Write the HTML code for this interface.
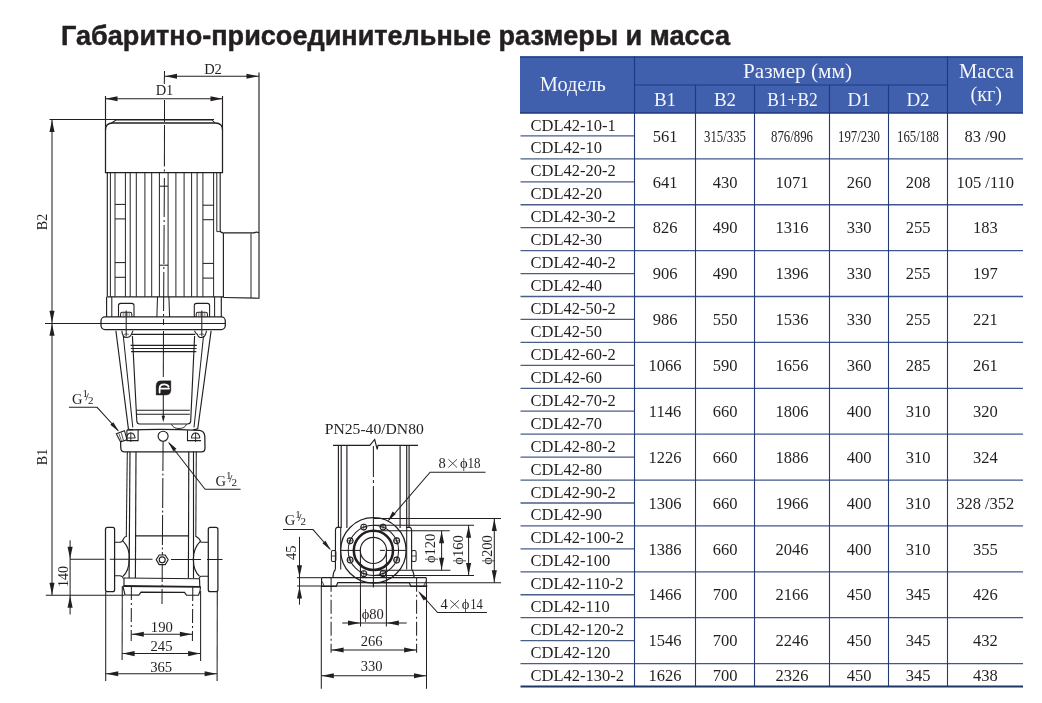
<!DOCTYPE html>
<html><head><meta charset="utf-8"><style>
html,body{margin:0;padding:0;background:#fff;width:1042px;height:703px;overflow:hidden}
svg{display:block;will-change:transform}
</style></head><body>
<svg width="1042" height="703" viewBox="0 0 1042 703">
<rect width="1042" height="703" fill="#fff"/>
<text x="61" y="44.5" font-family="Liberation Sans" font-size="28" font-weight="bold" fill="#231f20" text-anchor="start" textLength="669" lengthAdjust="spacingAndGlyphs" stroke="#231f20" stroke-width="0.5">Габаритно-присоединительные размеры и масса</text>
<rect x="520" y="56.5" width="503" height="56.5" fill="#405fad"/>
<line x1="520" y1="57" x2="1023" y2="57" stroke="#1e3e8a" stroke-width="1.4"/>
<line x1="634.5" y1="85" x2="947.5" y2="85" stroke="#1b3a86" stroke-width="1.2"/>
<line x1="520" y1="113" x2="1023" y2="113" stroke="#1e3a78" stroke-width="1.4"/>
<line x1="634.5" y1="56.5" x2="634.5" y2="113" stroke="#1b3a86" stroke-width="1.1"/>
<line x1="947.5" y1="56.5" x2="947.5" y2="113" stroke="#1b3a86" stroke-width="1.1"/>
<line x1="695.5" y1="85" x2="695.5" y2="113" stroke="#1b3a86" stroke-width="1.1"/>
<line x1="754.5" y1="85" x2="754.5" y2="113" stroke="#1b3a86" stroke-width="1.1"/>
<line x1="829.5" y1="85" x2="829.5" y2="113" stroke="#1b3a86" stroke-width="1.1"/>
<line x1="888.5" y1="85" x2="888.5" y2="113" stroke="#1b3a86" stroke-width="1.1"/>
<line x1="520.5" y1="135.94" x2="634.5" y2="135.94" stroke="#4a5d88" stroke-width="1.3"/>
<line x1="520.5" y1="158.88" x2="634.5" y2="158.88" stroke="#4a5d88" stroke-width="1.3"/>
<line x1="634.5" y1="158.88" x2="1023" y2="158.88" stroke="#3f5690" stroke-width="1.3"/>
<line x1="520.5" y1="181.82" x2="634.5" y2="181.82" stroke="#4a5d88" stroke-width="1.3"/>
<line x1="520.5" y1="204.76" x2="634.5" y2="204.76" stroke="#4a5d88" stroke-width="1.3"/>
<line x1="634.5" y1="204.76" x2="1023" y2="204.76" stroke="#3f5690" stroke-width="1.3"/>
<line x1="520.5" y1="227.7" x2="634.5" y2="227.7" stroke="#4a5d88" stroke-width="1.3"/>
<line x1="520.5" y1="250.64" x2="634.5" y2="250.64" stroke="#4a5d88" stroke-width="1.3"/>
<line x1="634.5" y1="250.64" x2="1023" y2="250.64" stroke="#3f5690" stroke-width="1.3"/>
<line x1="520.5" y1="273.58" x2="634.5" y2="273.58" stroke="#4a5d88" stroke-width="1.3"/>
<line x1="520.5" y1="296.52" x2="634.5" y2="296.52" stroke="#4a5d88" stroke-width="1.3"/>
<line x1="634.5" y1="296.52" x2="1023" y2="296.52" stroke="#3f5690" stroke-width="1.3"/>
<line x1="520.5" y1="319.46" x2="634.5" y2="319.46" stroke="#4a5d88" stroke-width="1.3"/>
<line x1="520.5" y1="342.4" x2="634.5" y2="342.4" stroke="#4a5d88" stroke-width="1.3"/>
<line x1="634.5" y1="342.4" x2="1023" y2="342.4" stroke="#3f5690" stroke-width="1.3"/>
<line x1="520.5" y1="365.34" x2="634.5" y2="365.34" stroke="#4a5d88" stroke-width="1.3"/>
<line x1="520.5" y1="388.28" x2="634.5" y2="388.28" stroke="#4a5d88" stroke-width="1.3"/>
<line x1="634.5" y1="388.28" x2="1023" y2="388.28" stroke="#3f5690" stroke-width="1.3"/>
<line x1="520.5" y1="411.22" x2="634.5" y2="411.22" stroke="#4a5d88" stroke-width="1.3"/>
<line x1="520.5" y1="434.16" x2="634.5" y2="434.16" stroke="#4a5d88" stroke-width="1.3"/>
<line x1="634.5" y1="434.16" x2="1023" y2="434.16" stroke="#3f5690" stroke-width="1.3"/>
<line x1="520.5" y1="457.1" x2="634.5" y2="457.1" stroke="#4a5d88" stroke-width="1.3"/>
<line x1="520.5" y1="480.04" x2="634.5" y2="480.04" stroke="#4a5d88" stroke-width="1.3"/>
<line x1="634.5" y1="480.04" x2="1023" y2="480.04" stroke="#3f5690" stroke-width="1.3"/>
<line x1="520.5" y1="502.98" x2="634.5" y2="502.98" stroke="#4a5d88" stroke-width="1.3"/>
<line x1="520.5" y1="525.92" x2="634.5" y2="525.92" stroke="#4a5d88" stroke-width="1.3"/>
<line x1="634.5" y1="525.92" x2="1023" y2="525.92" stroke="#3f5690" stroke-width="1.3"/>
<line x1="520.5" y1="548.86" x2="634.5" y2="548.86" stroke="#4a5d88" stroke-width="1.3"/>
<line x1="520.5" y1="571.8" x2="634.5" y2="571.8" stroke="#4a5d88" stroke-width="1.3"/>
<line x1="634.5" y1="571.8" x2="1023" y2="571.8" stroke="#3f5690" stroke-width="1.3"/>
<line x1="520.5" y1="594.74" x2="634.5" y2="594.74" stroke="#4a5d88" stroke-width="1.3"/>
<line x1="520.5" y1="617.68" x2="634.5" y2="617.68" stroke="#4a5d88" stroke-width="1.3"/>
<line x1="634.5" y1="617.68" x2="1023" y2="617.68" stroke="#3f5690" stroke-width="1.3"/>
<line x1="520.5" y1="640.62" x2="634.5" y2="640.62" stroke="#4a5d88" stroke-width="1.3"/>
<line x1="520.5" y1="663.56" x2="634.5" y2="663.56" stroke="#4a5d88" stroke-width="1.3"/>
<line x1="634.5" y1="663.56" x2="1023" y2="663.56" stroke="#3f5690" stroke-width="1.3"/>
<line x1="520.5" y1="686.5" x2="1023" y2="686.5" stroke="#1f3566" stroke-width="1.8"/>
<line x1="634.5" y1="113" x2="634.5" y2="686.5" stroke="#243a72" stroke-width="1.1"/>
<line x1="695.5" y1="113" x2="695.5" y2="686.5" stroke="#243a72" stroke-width="1.1"/>
<line x1="754.5" y1="113" x2="754.5" y2="686.5" stroke="#243a72" stroke-width="1.1"/>
<line x1="829.5" y1="113" x2="829.5" y2="686.5" stroke="#243a72" stroke-width="1.1"/>
<line x1="888.5" y1="113" x2="888.5" y2="686.5" stroke="#243a72" stroke-width="1.1"/>
<line x1="947.5" y1="113" x2="947.5" y2="686.5" stroke="#243a72" stroke-width="1.1"/>
<text x="572.8" y="90.5" font-family="Liberation Serif" font-size="21.5" font-weight="normal" fill="#f4f6fb" text-anchor="middle" textLength="66" lengthAdjust="spacingAndGlyphs">Модель</text>
<text x="797.5" y="78.3" font-family="Liberation Serif" font-size="21" font-weight="normal" fill="#f4f6fb" text-anchor="middle" textLength="109" lengthAdjust="spacingAndGlyphs">Размер (мм)</text>
<text x="665" y="106.3" font-family="Liberation Serif" font-size="19" font-weight="normal" fill="#f4f6fb" text-anchor="middle">B1</text>
<text x="725" y="106.3" font-family="Liberation Serif" font-size="19" font-weight="normal" fill="#f4f6fb" text-anchor="middle">B2</text>
<text x="792.5" y="106.3" font-family="Liberation Serif" font-size="19" font-weight="normal" fill="#f4f6fb" text-anchor="middle" textLength="50.5" lengthAdjust="spacingAndGlyphs">B1+B2</text>
<text x="859" y="106.3" font-family="Liberation Serif" font-size="19" font-weight="normal" fill="#f4f6fb" text-anchor="middle">D1</text>
<text x="918" y="106.3" font-family="Liberation Serif" font-size="19" font-weight="normal" fill="#f4f6fb" text-anchor="middle">D2</text>
<text x="986.5" y="77.6" font-family="Liberation Serif" font-size="21" font-weight="normal" fill="#f4f6fb" text-anchor="middle" textLength="55" lengthAdjust="spacingAndGlyphs">Масса</text>
<text x="986.3" y="100.6" font-family="Liberation Serif" font-size="20.5" font-weight="normal" fill="#f4f6fb" text-anchor="middle" textLength="31.5" lengthAdjust="spacingAndGlyphs">(кг)</text>
<text x="530.5" y="130.5" font-family="Liberation Serif" font-size="16.5" font-weight="normal" fill="#231f20" text-anchor="start">CDL42-10-1</text>
<text x="530.5" y="153.44" font-family="Liberation Serif" font-size="16.5" font-weight="normal" fill="#231f20" text-anchor="start">CDL42-10</text>
<text x="665" y="141.64" font-family="Liberation Serif" font-size="16.5" font-weight="normal" fill="#231f20" text-anchor="middle">561</text>
<text x="725" y="141.64" font-family="Liberation Serif" font-size="16" font-weight="normal" fill="#231f20" text-anchor="middle" textLength="42" lengthAdjust="spacingAndGlyphs">315/335</text>
<text x="792" y="141.64" font-family="Liberation Serif" font-size="16" font-weight="normal" fill="#231f20" text-anchor="middle" textLength="42" lengthAdjust="spacingAndGlyphs">876/896</text>
<text x="859" y="141.64" font-family="Liberation Serif" font-size="16" font-weight="normal" fill="#231f20" text-anchor="middle" textLength="42" lengthAdjust="spacingAndGlyphs">197/230</text>
<text x="918" y="141.64" font-family="Liberation Serif" font-size="16" font-weight="normal" fill="#231f20" text-anchor="middle" textLength="42" lengthAdjust="spacingAndGlyphs">165/188</text>
<text x="985.25" y="141.64" font-family="Liberation Serif" font-size="16.5" font-weight="normal" fill="#231f20" text-anchor="middle">83 /90</text>
<text x="530.5" y="176.38" font-family="Liberation Serif" font-size="16.5" font-weight="normal" fill="#231f20" text-anchor="start">CDL42-20-2</text>
<text x="530.5" y="199.32" font-family="Liberation Serif" font-size="16.5" font-weight="normal" fill="#231f20" text-anchor="start">CDL42-20</text>
<text x="665" y="187.52" font-family="Liberation Serif" font-size="16.5" font-weight="normal" fill="#231f20" text-anchor="middle">641</text>
<text x="725" y="187.52" font-family="Liberation Serif" font-size="16.5" font-weight="normal" fill="#231f20" text-anchor="middle">430</text>
<text x="792" y="187.52" font-family="Liberation Serif" font-size="16.5" font-weight="normal" fill="#231f20" text-anchor="middle">1071</text>
<text x="859" y="187.52" font-family="Liberation Serif" font-size="16.5" font-weight="normal" fill="#231f20" text-anchor="middle">260</text>
<text x="918" y="187.52" font-family="Liberation Serif" font-size="16.5" font-weight="normal" fill="#231f20" text-anchor="middle">208</text>
<text x="985.25" y="187.52" font-family="Liberation Serif" font-size="16.5" font-weight="normal" fill="#231f20" text-anchor="middle">105 /110</text>
<text x="530.5" y="222.26" font-family="Liberation Serif" font-size="16.5" font-weight="normal" fill="#231f20" text-anchor="start">CDL42-30-2</text>
<text x="530.5" y="245.2" font-family="Liberation Serif" font-size="16.5" font-weight="normal" fill="#231f20" text-anchor="start">CDL42-30</text>
<text x="665" y="233.4" font-family="Liberation Serif" font-size="16.5" font-weight="normal" fill="#231f20" text-anchor="middle">826</text>
<text x="725" y="233.4" font-family="Liberation Serif" font-size="16.5" font-weight="normal" fill="#231f20" text-anchor="middle">490</text>
<text x="792" y="233.4" font-family="Liberation Serif" font-size="16.5" font-weight="normal" fill="#231f20" text-anchor="middle">1316</text>
<text x="859" y="233.4" font-family="Liberation Serif" font-size="16.5" font-weight="normal" fill="#231f20" text-anchor="middle">330</text>
<text x="918" y="233.4" font-family="Liberation Serif" font-size="16.5" font-weight="normal" fill="#231f20" text-anchor="middle">255</text>
<text x="985.25" y="233.4" font-family="Liberation Serif" font-size="16.5" font-weight="normal" fill="#231f20" text-anchor="middle">183</text>
<text x="530.5" y="268.14" font-family="Liberation Serif" font-size="16.5" font-weight="normal" fill="#231f20" text-anchor="start">CDL42-40-2</text>
<text x="530.5" y="291.08" font-family="Liberation Serif" font-size="16.5" font-weight="normal" fill="#231f20" text-anchor="start">CDL42-40</text>
<text x="665" y="279.28" font-family="Liberation Serif" font-size="16.5" font-weight="normal" fill="#231f20" text-anchor="middle">906</text>
<text x="725" y="279.28" font-family="Liberation Serif" font-size="16.5" font-weight="normal" fill="#231f20" text-anchor="middle">490</text>
<text x="792" y="279.28" font-family="Liberation Serif" font-size="16.5" font-weight="normal" fill="#231f20" text-anchor="middle">1396</text>
<text x="859" y="279.28" font-family="Liberation Serif" font-size="16.5" font-weight="normal" fill="#231f20" text-anchor="middle">330</text>
<text x="918" y="279.28" font-family="Liberation Serif" font-size="16.5" font-weight="normal" fill="#231f20" text-anchor="middle">255</text>
<text x="985.25" y="279.28" font-family="Liberation Serif" font-size="16.5" font-weight="normal" fill="#231f20" text-anchor="middle">197</text>
<text x="530.5" y="314.02" font-family="Liberation Serif" font-size="16.5" font-weight="normal" fill="#231f20" text-anchor="start">CDL42-50-2</text>
<text x="530.5" y="336.96" font-family="Liberation Serif" font-size="16.5" font-weight="normal" fill="#231f20" text-anchor="start">CDL42-50</text>
<text x="665" y="325.16" font-family="Liberation Serif" font-size="16.5" font-weight="normal" fill="#231f20" text-anchor="middle">986</text>
<text x="725" y="325.16" font-family="Liberation Serif" font-size="16.5" font-weight="normal" fill="#231f20" text-anchor="middle">550</text>
<text x="792" y="325.16" font-family="Liberation Serif" font-size="16.5" font-weight="normal" fill="#231f20" text-anchor="middle">1536</text>
<text x="859" y="325.16" font-family="Liberation Serif" font-size="16.5" font-weight="normal" fill="#231f20" text-anchor="middle">330</text>
<text x="918" y="325.16" font-family="Liberation Serif" font-size="16.5" font-weight="normal" fill="#231f20" text-anchor="middle">255</text>
<text x="985.25" y="325.16" font-family="Liberation Serif" font-size="16.5" font-weight="normal" fill="#231f20" text-anchor="middle">221</text>
<text x="530.5" y="359.9" font-family="Liberation Serif" font-size="16.5" font-weight="normal" fill="#231f20" text-anchor="start">CDL42-60-2</text>
<text x="530.5" y="382.84" font-family="Liberation Serif" font-size="16.5" font-weight="normal" fill="#231f20" text-anchor="start">CDL42-60</text>
<text x="665" y="371.04" font-family="Liberation Serif" font-size="16.5" font-weight="normal" fill="#231f20" text-anchor="middle">1066</text>
<text x="725" y="371.04" font-family="Liberation Serif" font-size="16.5" font-weight="normal" fill="#231f20" text-anchor="middle">590</text>
<text x="792" y="371.04" font-family="Liberation Serif" font-size="16.5" font-weight="normal" fill="#231f20" text-anchor="middle">1656</text>
<text x="859" y="371.04" font-family="Liberation Serif" font-size="16.5" font-weight="normal" fill="#231f20" text-anchor="middle">360</text>
<text x="918" y="371.04" font-family="Liberation Serif" font-size="16.5" font-weight="normal" fill="#231f20" text-anchor="middle">285</text>
<text x="985.25" y="371.04" font-family="Liberation Serif" font-size="16.5" font-weight="normal" fill="#231f20" text-anchor="middle">261</text>
<text x="530.5" y="405.78" font-family="Liberation Serif" font-size="16.5" font-weight="normal" fill="#231f20" text-anchor="start">CDL42-70-2</text>
<text x="530.5" y="428.72" font-family="Liberation Serif" font-size="16.5" font-weight="normal" fill="#231f20" text-anchor="start">CDL42-70</text>
<text x="665" y="416.92" font-family="Liberation Serif" font-size="16.5" font-weight="normal" fill="#231f20" text-anchor="middle">1146</text>
<text x="725" y="416.92" font-family="Liberation Serif" font-size="16.5" font-weight="normal" fill="#231f20" text-anchor="middle">660</text>
<text x="792" y="416.92" font-family="Liberation Serif" font-size="16.5" font-weight="normal" fill="#231f20" text-anchor="middle">1806</text>
<text x="859" y="416.92" font-family="Liberation Serif" font-size="16.5" font-weight="normal" fill="#231f20" text-anchor="middle">400</text>
<text x="918" y="416.92" font-family="Liberation Serif" font-size="16.5" font-weight="normal" fill="#231f20" text-anchor="middle">310</text>
<text x="985.25" y="416.92" font-family="Liberation Serif" font-size="16.5" font-weight="normal" fill="#231f20" text-anchor="middle">320</text>
<text x="530.5" y="451.66" font-family="Liberation Serif" font-size="16.5" font-weight="normal" fill="#231f20" text-anchor="start">CDL42-80-2</text>
<text x="530.5" y="474.6" font-family="Liberation Serif" font-size="16.5" font-weight="normal" fill="#231f20" text-anchor="start">CDL42-80</text>
<text x="665" y="462.8" font-family="Liberation Serif" font-size="16.5" font-weight="normal" fill="#231f20" text-anchor="middle">1226</text>
<text x="725" y="462.8" font-family="Liberation Serif" font-size="16.5" font-weight="normal" fill="#231f20" text-anchor="middle">660</text>
<text x="792" y="462.8" font-family="Liberation Serif" font-size="16.5" font-weight="normal" fill="#231f20" text-anchor="middle">1886</text>
<text x="859" y="462.8" font-family="Liberation Serif" font-size="16.5" font-weight="normal" fill="#231f20" text-anchor="middle">400</text>
<text x="918" y="462.8" font-family="Liberation Serif" font-size="16.5" font-weight="normal" fill="#231f20" text-anchor="middle">310</text>
<text x="985.25" y="462.8" font-family="Liberation Serif" font-size="16.5" font-weight="normal" fill="#231f20" text-anchor="middle">324</text>
<text x="530.5" y="497.54" font-family="Liberation Serif" font-size="16.5" font-weight="normal" fill="#231f20" text-anchor="start">CDL42-90-2</text>
<text x="530.5" y="520.48" font-family="Liberation Serif" font-size="16.5" font-weight="normal" fill="#231f20" text-anchor="start">CDL42-90</text>
<text x="665" y="508.68" font-family="Liberation Serif" font-size="16.5" font-weight="normal" fill="#231f20" text-anchor="middle">1306</text>
<text x="725" y="508.68" font-family="Liberation Serif" font-size="16.5" font-weight="normal" fill="#231f20" text-anchor="middle">660</text>
<text x="792" y="508.68" font-family="Liberation Serif" font-size="16.5" font-weight="normal" fill="#231f20" text-anchor="middle">1966</text>
<text x="859" y="508.68" font-family="Liberation Serif" font-size="16.5" font-weight="normal" fill="#231f20" text-anchor="middle">400</text>
<text x="918" y="508.68" font-family="Liberation Serif" font-size="16.5" font-weight="normal" fill="#231f20" text-anchor="middle">310</text>
<text x="985.25" y="508.68" font-family="Liberation Serif" font-size="16.5" font-weight="normal" fill="#231f20" text-anchor="middle">328 /352</text>
<text x="530.5" y="543.42" font-family="Liberation Serif" font-size="16.5" font-weight="normal" fill="#231f20" text-anchor="start">CDL42-100-2</text>
<text x="530.5" y="566.36" font-family="Liberation Serif" font-size="16.5" font-weight="normal" fill="#231f20" text-anchor="start">CDL42-100</text>
<text x="665" y="554.56" font-family="Liberation Serif" font-size="16.5" font-weight="normal" fill="#231f20" text-anchor="middle">1386</text>
<text x="725" y="554.56" font-family="Liberation Serif" font-size="16.5" font-weight="normal" fill="#231f20" text-anchor="middle">660</text>
<text x="792" y="554.56" font-family="Liberation Serif" font-size="16.5" font-weight="normal" fill="#231f20" text-anchor="middle">2046</text>
<text x="859" y="554.56" font-family="Liberation Serif" font-size="16.5" font-weight="normal" fill="#231f20" text-anchor="middle">400</text>
<text x="918" y="554.56" font-family="Liberation Serif" font-size="16.5" font-weight="normal" fill="#231f20" text-anchor="middle">310</text>
<text x="985.25" y="554.56" font-family="Liberation Serif" font-size="16.5" font-weight="normal" fill="#231f20" text-anchor="middle">355</text>
<text x="530.5" y="589.3" font-family="Liberation Serif" font-size="16.5" font-weight="normal" fill="#231f20" text-anchor="start">CDL42-110-2</text>
<text x="530.5" y="612.24" font-family="Liberation Serif" font-size="16.5" font-weight="normal" fill="#231f20" text-anchor="start">CDL42-110</text>
<text x="665" y="600.44" font-family="Liberation Serif" font-size="16.5" font-weight="normal" fill="#231f20" text-anchor="middle">1466</text>
<text x="725" y="600.44" font-family="Liberation Serif" font-size="16.5" font-weight="normal" fill="#231f20" text-anchor="middle">700</text>
<text x="792" y="600.44" font-family="Liberation Serif" font-size="16.5" font-weight="normal" fill="#231f20" text-anchor="middle">2166</text>
<text x="859" y="600.44" font-family="Liberation Serif" font-size="16.5" font-weight="normal" fill="#231f20" text-anchor="middle">450</text>
<text x="918" y="600.44" font-family="Liberation Serif" font-size="16.5" font-weight="normal" fill="#231f20" text-anchor="middle">345</text>
<text x="985.25" y="600.44" font-family="Liberation Serif" font-size="16.5" font-weight="normal" fill="#231f20" text-anchor="middle">426</text>
<text x="530.5" y="635.18" font-family="Liberation Serif" font-size="16.5" font-weight="normal" fill="#231f20" text-anchor="start">CDL42-120-2</text>
<text x="530.5" y="658.12" font-family="Liberation Serif" font-size="16.5" font-weight="normal" fill="#231f20" text-anchor="start">CDL42-120</text>
<text x="665" y="646.32" font-family="Liberation Serif" font-size="16.5" font-weight="normal" fill="#231f20" text-anchor="middle">1546</text>
<text x="725" y="646.32" font-family="Liberation Serif" font-size="16.5" font-weight="normal" fill="#231f20" text-anchor="middle">700</text>
<text x="792" y="646.32" font-family="Liberation Serif" font-size="16.5" font-weight="normal" fill="#231f20" text-anchor="middle">2246</text>
<text x="859" y="646.32" font-family="Liberation Serif" font-size="16.5" font-weight="normal" fill="#231f20" text-anchor="middle">450</text>
<text x="918" y="646.32" font-family="Liberation Serif" font-size="16.5" font-weight="normal" fill="#231f20" text-anchor="middle">345</text>
<text x="985.25" y="646.32" font-family="Liberation Serif" font-size="16.5" font-weight="normal" fill="#231f20" text-anchor="middle">432</text>
<text x="530.5" y="681.06" font-family="Liberation Serif" font-size="16.5" font-weight="normal" fill="#231f20" text-anchor="start">CDL42-130-2</text>
<text x="665" y="681.06" font-family="Liberation Serif" font-size="16.5" font-weight="normal" fill="#231f20" text-anchor="middle">1626</text>
<text x="725" y="681.06" font-family="Liberation Serif" font-size="16.5" font-weight="normal" fill="#231f20" text-anchor="middle">700</text>
<text x="792" y="681.06" font-family="Liberation Serif" font-size="16.5" font-weight="normal" fill="#231f20" text-anchor="middle">2326</text>
<text x="859" y="681.06" font-family="Liberation Serif" font-size="16.5" font-weight="normal" fill="#231f20" text-anchor="middle">450</text>
<text x="918" y="681.06" font-family="Liberation Serif" font-size="16.5" font-weight="normal" fill="#231f20" text-anchor="middle">345</text>
<text x="985.25" y="681.06" font-family="Liberation Serif" font-size="16.5" font-weight="normal" fill="#231f20" text-anchor="middle">438</text>
<line x1="164.5" y1="71" x2="164.3" y2="84" stroke="#231f20" stroke-width="1.03"/>
<line x1="164.5" y1="100" x2="164.5" y2="122" stroke="#231f20" stroke-width="1.03"/>
<line x1="164.5" y1="125" x2="164.4" y2="166.4" stroke="#231f20" stroke-width="1.03"/>
<line x1="164.4" y1="169.5" x2="164.4" y2="171.5" stroke="#231f20" stroke-width="1.03"/>
<line x1="164.4" y1="178" x2="163.5" y2="325" stroke="#231f20" stroke-width="1.03" stroke-dasharray="39 3 2 3"/>
<line x1="163.5" y1="331" x2="163.3" y2="377" stroke="#231f20" stroke-width="1.03"/>
<line x1="163.1" y1="441" x2="162" y2="604" stroke="#231f20" stroke-width="1.03" stroke-dasharray="30 2.5 2 2.5"/>
<line x1="164.5" y1="76.2" x2="259" y2="76.2" stroke="#231f20" stroke-width="1.03"/>
<polygon points="165,76.2 177,73.65 177,78.75" fill="#231f20"/>
<polygon points="258.5,76.2 246.5,78.75 246.5,73.65" fill="#231f20"/>
<text x="213" y="73.5" font-family="Liberation Serif" font-size="14.5" font-weight="normal" fill="#231f20" text-anchor="middle">D2</text>
<line x1="259" y1="72.5" x2="259" y2="233" stroke="#231f20" stroke-width="1.15"/>
<line x1="105" y1="98.7" x2="223" y2="98.7" stroke="#231f20" stroke-width="1.03"/>
<polygon points="105.5,98.7 117.5,96.15 117.5,101.25" fill="#231f20"/>
<polygon points="222.5,98.7 210.5,101.25 210.5,96.15" fill="#231f20"/>
<text x="164.5" y="95" font-family="Liberation Serif" font-size="14.5" font-weight="normal" fill="#231f20" text-anchor="middle">D1</text>
<line x1="105.5" y1="96" x2="105.5" y2="130" stroke="#231f20" stroke-width="1.15"/>
<line x1="222.5" y1="96" x2="222.5" y2="130" stroke="#231f20" stroke-width="1.15"/>
<line x1="49.5" y1="119.5" x2="214" y2="119.5" stroke="#231f20" stroke-width="1.03"/>
<line x1="52" y1="119.5" x2="52" y2="595.2" stroke="#231f20" stroke-width="1.03"/>
<polygon points="52,120 54.55,132 49.45,132" fill="#231f20"/>
<polygon points="52,322.7 49.45,310.7 54.55,310.7" fill="#231f20"/>
<polygon points="52,323.7 54.55,335.7 49.45,335.7" fill="#231f20"/>
<polygon points="52,594.7 49.45,582.7 54.55,582.7" fill="#231f20"/>
<line x1="45" y1="323.4" x2="101" y2="323.6" stroke="#231f20" stroke-width="1.03"/>
<line x1="45.8" y1="595.2" x2="124.5" y2="595.2" stroke="#231f20" stroke-width="1.03"/>
<text x="47.3" y="222" font-family="Liberation Serif" font-size="14" font-weight="normal" fill="#231f20" text-anchor="middle" transform="rotate(-90 47.3 222)">B2</text>
<text x="47.3" y="457" font-family="Liberation Serif" font-size="14" font-weight="normal" fill="#231f20" text-anchor="middle" transform="rotate(-90 47.3 457)">B1</text>
<path d="M105.5,172.6 L105.5,130 Q105.5,123 112.5,123 L215.5,123 Q222.5,123 222.5,130 L222.5,172.6 Z" fill="none" stroke="#231f20" stroke-width="1.26"/>
<path d="M111.5,123 L116,120 L212,120 L215,123" fill="none" stroke="#231f20" stroke-width="1.03"/>
<line x1="107.3" y1="172.8" x2="107.3" y2="296.8" stroke="#231f20" stroke-width="1.15"/>
<line x1="107.3" y1="296.8" x2="223.4" y2="296.8" stroke="#231f20" stroke-width="1.15"/>
<line x1="110.4" y1="172.8" x2="110.4" y2="296.8" stroke="#231f20" stroke-width="0.98"/>
<line x1="115" y1="172.8" x2="115" y2="296.8" stroke="#231f20" stroke-width="0.98"/>
<line x1="125.4" y1="172.8" x2="125.4" y2="296.8" stroke="#231f20" stroke-width="0.98"/>
<line x1="130.2" y1="172.8" x2="130.2" y2="296.8" stroke="#231f20" stroke-width="0.98"/>
<line x1="136.3" y1="172.8" x2="136.3" y2="296.8" stroke="#231f20" stroke-width="0.98"/>
<line x1="144.9" y1="172.8" x2="144.9" y2="296.8" stroke="#231f20" stroke-width="0.98"/>
<line x1="151.7" y1="172.8" x2="151.7" y2="296.8" stroke="#231f20" stroke-width="0.98"/>
<line x1="159.4" y1="172.8" x2="159.4" y2="296.8" stroke="#231f20" stroke-width="0.98"/>
<line x1="168.1" y1="172.8" x2="168.1" y2="296.8" stroke="#231f20" stroke-width="0.98"/>
<line x1="175.9" y1="172.8" x2="175.9" y2="296.8" stroke="#231f20" stroke-width="0.98"/>
<line x1="184.1" y1="172.8" x2="184.1" y2="296.8" stroke="#231f20" stroke-width="0.98"/>
<line x1="191.6" y1="172.8" x2="191.6" y2="296.8" stroke="#231f20" stroke-width="0.98"/>
<line x1="197.1" y1="172.8" x2="197.1" y2="296.8" stroke="#231f20" stroke-width="0.98"/>
<line x1="202.9" y1="172.8" x2="202.9" y2="296.8" stroke="#231f20" stroke-width="0.98"/>
<line x1="213.6" y1="172.8" x2="213.6" y2="296.8" stroke="#231f20" stroke-width="0.98"/>
<line x1="216.8" y1="172.8" x2="216.8" y2="231.6" stroke="#231f20" stroke-width="0.98"/>
<path d="M216.8,231.6 L220,231.6" fill="none" stroke="#231f20" stroke-width="0.92"/>
<path d="M220.2,172.8 L220.2,230.5 Q220.4,232.8 223.4,232.9" fill="none" stroke="#231f20" stroke-width="1.15"/>
<line x1="115" y1="204.4" x2="125.4" y2="204.4" stroke="#231f20" stroke-width="1.03"/>
<line x1="202.9" y1="205.2" x2="213.6" y2="205.2" stroke="#231f20" stroke-width="1.03"/>
<line x1="115" y1="218.9" x2="125.4" y2="218.9" stroke="#231f20" stroke-width="1.03"/>
<line x1="202.9" y1="219.7" x2="213.6" y2="219.7" stroke="#231f20" stroke-width="1.03"/>
<line x1="115" y1="262.6" x2="125.4" y2="262.6" stroke="#231f20" stroke-width="1.03"/>
<line x1="202.9" y1="263.4" x2="213.6" y2="263.4" stroke="#231f20" stroke-width="1.03"/>
<line x1="115" y1="277.3" x2="125.4" y2="277.3" stroke="#231f20" stroke-width="1.03"/>
<line x1="202.9" y1="278.1" x2="213.6" y2="278.1" stroke="#231f20" stroke-width="1.03"/>
<line x1="159.4" y1="186.2" x2="168.1" y2="186.2" stroke="#231f20" stroke-width="1.03"/>
<line x1="159.4" y1="265.2" x2="168.1" y2="265.2" stroke="#231f20" stroke-width="1.03"/>
<path d="M223.4,232.9 L254,232.9 Q256,231.8 257.5,232.2 L259,233" fill="none" stroke="#231f20" stroke-width="1.15"/>
<line x1="223.4" y1="232.9" x2="223.4" y2="297.5" stroke="#231f20" stroke-width="1.15"/>
<line x1="251" y1="233.5" x2="251" y2="298" stroke="#231f20" stroke-width="0.98"/>
<path d="M223.4,297.5 L259,298.2 L259,233" fill="none" stroke="#231f20" stroke-width="1.15"/>
<line x1="106.6" y1="296.8" x2="106.6" y2="317" stroke="#231f20" stroke-width="1.15"/>
<line x1="111.8" y1="296.8" x2="111.8" y2="317" stroke="#231f20" stroke-width="1.03"/>
<line x1="214.6" y1="296.8" x2="214.6" y2="317" stroke="#231f20" stroke-width="1.03"/>
<line x1="221.3" y1="296.8" x2="221.3" y2="317" stroke="#231f20" stroke-width="1.15"/>
<path d="M118.5,317 L118.5,305.6 Q118.5,303.4 120.7,303.4 L131.8,303.4 Q134,303.4 134,305.6 L134,317" fill="none" stroke="#231f20" stroke-width="1.09"/>
<path d="M194.3,317 L194.3,305.6 Q194.3,303.4 196.5,303.4 L207.4,303.4 Q209.6,303.4 209.6,305.6 L209.6,317" fill="none" stroke="#231f20" stroke-width="1.09"/>
<path d="M120.60000000000001,316.9 L120.60000000000001,314 Q120.60000000000001,312.2 122.4,312.2 L130.0,312.2 Q131.8,312.2 131.8,314 L131.8,316.9" fill="none" stroke="#231f20" stroke-width="1.03"/>
<line x1="123.2" y1="312.6" x2="123.2" y2="316.6" stroke="#231f20" stroke-width="0.57"/>
<line x1="125.2" y1="312.6" x2="125.2" y2="316.6" stroke="#231f20" stroke-width="0.57"/>
<line x1="127.2" y1="312.6" x2="127.2" y2="316.6" stroke="#231f20" stroke-width="0.57"/>
<line x1="129.2" y1="312.6" x2="129.2" y2="316.6" stroke="#231f20" stroke-width="0.57"/>
<line x1="126.2" y1="310.5" x2="126.2" y2="336.5" stroke="#231f20" stroke-width="1.03"/>
<path d="M196.20000000000002,316.9 L196.20000000000002,314 Q196.20000000000002,312.2 198.0,312.2 L205.60000000000002,312.2 Q207.4,312.2 207.4,314 L207.4,316.9" fill="none" stroke="#231f20" stroke-width="1.03"/>
<line x1="198.8" y1="312.6" x2="198.8" y2="316.6" stroke="#231f20" stroke-width="0.57"/>
<line x1="200.8" y1="312.6" x2="200.8" y2="316.6" stroke="#231f20" stroke-width="0.57"/>
<line x1="202.8" y1="312.6" x2="202.8" y2="316.6" stroke="#231f20" stroke-width="0.57"/>
<line x1="204.8" y1="312.6" x2="204.8" y2="316.6" stroke="#231f20" stroke-width="0.57"/>
<line x1="201.8" y1="310.5" x2="201.8" y2="336.5" stroke="#231f20" stroke-width="1.03"/>
<path d="M157.5,296.8 L156.9,317 M168.9,296.8 L169.6,317" fill="none" stroke="#231f20" stroke-width="1.03"/>
<rect x="101" y="316.9" width="124.3" height="12.7" rx="4" fill="none" stroke="#231f20" stroke-width="1.26"/>
<line x1="101" y1="323.6" x2="225.3" y2="323.6" stroke="#231f20" stroke-width="1.03"/>
<path d="M115.9,330.8 L128.4,428.9 Q130,430 133,429.5" fill="none" stroke="#231f20" stroke-width="1.15"/>
<path d="M123.3,336 L132.8,427.5" fill="none" stroke="#231f20" stroke-width="1.03"/>
<path d="M131.2,334.3 L195.2,334.3 M132.4,336 L136.8,421 Q137,424 139.5,424 L187.5,424 Q190.5,424 190.7,421 L194.6,336" fill="none" stroke="#231f20" stroke-width="1.15"/>
<path d="M211.1,330.8 L197.8,428.5 Q196,430 193,429.5" fill="none" stroke="#231f20" stroke-width="1.15"/>
<path d="M203.5,336 L194,427.5" fill="none" stroke="#231f20" stroke-width="1.03"/>
<path d="M121.8,330.6 Q122.5,337.5 126.3,337.6 Q130,337.5 131.5,334.3 L133,330.6" fill="none" stroke="#231f20" stroke-width="1.03"/>
<path d="M123.8,334.5 Q126.3,333.2 128.8,334.5" fill="none" stroke="#231f20" stroke-width="0.69"/>
<path d="M194.5,330.6 Q196,334.3 197.5,334.3 Q198,337.5 201.8,337.6 Q205.5,337.5 206.5,330.6" fill="none" stroke="#231f20" stroke-width="1.03"/>
<path d="M199.3,334.5 Q201.8,333.2 204.3,334.5" fill="none" stroke="#231f20" stroke-width="0.69"/>
<line x1="130.57" y1="345.3" x2="196.83" y2="345.3" stroke="#231f20" stroke-width="1.15"/>
<line x1="130.84" y1="348.5" x2="196.56" y2="348.5" stroke="#231f20" stroke-width="1.15"/>
<line x1="131.11" y1="351.6" x2="196.29" y2="351.6" stroke="#231f20" stroke-width="1.15"/>
<line x1="136.2" y1="410.2" x2="189.8" y2="410.2" stroke="#231f20" stroke-width="1.15"/>
<line x1="136.2" y1="414.2" x2="189.8" y2="414.2" stroke="#231f20" stroke-width="1.15"/>
<path d="M171.5,424.2 Q173,428.5 179,428.5 Q185,428.5 186.5,424.2" fill="none" stroke="#231f20" stroke-width="0.92"/>
<path d="M156.1,395.1 L156.1,386 Q156.1,380.8 161.3,380.8 L170.9,380.8 L170.9,390 Q170.9,395.1 165.7,395.1 Z" fill="#231f20" stroke="#231f20" stroke-width="0.34"/>
<path d="M159.6,392.6 L159.6,388.2 Q159.6,384.4 164.2,384.4 Q167.6,384.4 168.6,386.6 M159.6,388.6 L169,388.6" fill="none" stroke="#fff" stroke-width="1.8" stroke-linecap="round"/>
<line x1="163.3" y1="394.8" x2="163.3" y2="417" stroke="#231f20" stroke-width="1.03"/>
<polygon points="163.3,422.3 161.6,415.8 165,415.8" fill="#231f20"/>
<path d="M126.9,430 Q163,428.6 199.5,430.3 Q204.3,431 204.8,436 L205,448 Q205,451.9 201.5,451.9 L124.5,451.9 Q121,451.9 120.8,448 L120.6,441.5" fill="none" stroke="#231f20" stroke-width="1.26"/>
<path d="M126.9,430 L126.9,440.6 L138.1,440.6 L138.1,430" fill="none" stroke="#231f20" stroke-width="1.09"/>
<path d="M187.5,430.3 L187.5,440.6 L201,440.6" fill="none" stroke="#231f20" stroke-width="1.09"/>
<path d="M126.50000000000001,438.0 Q127.30000000000001,433.0 130.8,433.0 Q134.3,433.0 135.10000000000002,438.0" fill="none" stroke="#231f20" stroke-width="1.03"/>
<line x1="130.8" y1="432.5" x2="130.8" y2="442" stroke="#231f20" stroke-width="0.92"/>
<line x1="126.3" y1="438" x2="135.3" y2="438" stroke="#231f20" stroke-width="0.92"/>
<path d="M191.29999999999998,438.0 Q192.1,433.0 195.6,433.0 Q199.1,433.0 199.9,438.0" fill="none" stroke="#231f20" stroke-width="1.03"/>
<line x1="195.6" y1="432.5" x2="195.6" y2="442" stroke="#231f20" stroke-width="0.92"/>
<line x1="191.1" y1="438" x2="200.1" y2="438" stroke="#231f20" stroke-width="0.92"/>
<circle cx="163.1" cy="436.2" r="5" fill="none" stroke="#231f20" stroke-width="1.15"/>
<path d="M116.3,433.8 L124.5,430.8 L127,439.8 L120.5,441.8 Z" fill="none" stroke="#231f20" stroke-width="1.03"/>
<line x1="121.2" y1="432.5" x2="123.5" y2="440.5" stroke="#231f20" stroke-width="0.8"/>
<line x1="118.8" y1="433.5" x2="121.5" y2="441" stroke="#231f20" stroke-width="0.69"/>
<text x="72" y="404" font-family="Liberation Serif" font-size="14.5" font-weight="normal" fill="#231f20" text-anchor="start">G</text>
<text x="82.6" y="397.2" font-family="Liberation Serif" font-size="11" font-weight="normal" fill="#231f20" text-anchor="start">1</text>
<line x1="88.5" y1="393.2" x2="85.8" y2="400.4" stroke="#231f20" stroke-width="0.69"/>
<text x="87.9" y="404.3" font-family="Liberation Serif" font-size="11" font-weight="normal" fill="#231f20" text-anchor="start">2</text>
<polyline points="68.9,407.3 97.1,407.3 118.2,430.5" fill="none" stroke="#231f20" stroke-width="1.03"/>
<polygon points="119,431.8 110.31,424.77 113.34,422.16" fill="#231f20"/>
<text x="215.5" y="485.8" font-family="Liberation Serif" font-size="14.5" font-weight="normal" fill="#231f20" text-anchor="start">G</text>
<text x="226.1" y="479" font-family="Liberation Serif" font-size="11" font-weight="normal" fill="#231f20" text-anchor="start">1</text>
<line x1="232" y1="475" x2="229.3" y2="482.2" stroke="#231f20" stroke-width="0.69"/>
<text x="231.4" y="486.1" font-family="Liberation Serif" font-size="11" font-weight="normal" fill="#231f20" text-anchor="start">2</text>
<polyline points="240.6,489.2 205.1,489.2 169,443" fill="none" stroke="#231f20" stroke-width="1.03"/>
<polygon points="168,441.5 176.43,448.84 173.31,451.34" fill="#231f20"/>
<line x1="127.3" y1="451.7" x2="126.3" y2="537" stroke="#231f20" stroke-width="1.03"/>
<line x1="130" y1="451.7" x2="129.1" y2="578" stroke="#231f20" stroke-width="1.15"/>
<line x1="136" y1="451.7" x2="135.4" y2="578" stroke="#231f20" stroke-width="1.15"/>
<line x1="196.3" y1="451.7" x2="195.8" y2="537" stroke="#231f20" stroke-width="1.03"/>
<line x1="193.5" y1="451.7" x2="193.5" y2="578" stroke="#231f20" stroke-width="1.15"/>
<line x1="188.8" y1="451.7" x2="188.4" y2="578" stroke="#231f20" stroke-width="1.15"/>
<line x1="135.4" y1="535.9" x2="188.4" y2="535.9" stroke="#231f20" stroke-width="1.15"/>
<rect x="105.5" y="527.4" width="9.1" height="64.3" rx="2" fill="none" stroke="#231f20" stroke-width="1.26"/>
<rect x="208.3" y="527.4" width="9.6" height="64.3" rx="2" fill="none" stroke="#231f20" stroke-width="1.26"/>
<path d="M114.6,542.2 L120,542.2 Q122.5,542 123.5,539 Q124.5,536.5 126.3,536.5" fill="none" stroke="#231f20" stroke-width="1.03"/>
<path d="M123,541.2 Q130,548 129.2,559.3 Q129,571 123,576.3" fill="none" stroke="#231f20" stroke-width="1.15"/>
<path d="M114.6,575.8 L120,575.8 Q122.5,576 123.5,578.5" fill="none" stroke="#231f20" stroke-width="1.03"/>
<path d="M208.3,542.2 L201,542.2 Q199.5,538 196,536.5" fill="none" stroke="#231f20" stroke-width="1.03"/>
<path d="M200.5,541.2 Q193.5,548 193.3,559.3 Q193.5,571 199.5,576.3" fill="none" stroke="#231f20" stroke-width="1.15"/>
<path d="M208.3,576.3 L201,576.3 Q199.5,577 199,578.5" fill="none" stroke="#231f20" stroke-width="1.03"/>
<line x1="70" y1="559.2" x2="104.5" y2="559.2" stroke="#231f20" stroke-width="1.03"/>
<line x1="109.8" y1="559.3" x2="152.5" y2="559.3" stroke="#231f20" stroke-width="1.03"/>
<line x1="171" y1="559.5" x2="201" y2="559.5" stroke="#231f20" stroke-width="1.03"/>
<line x1="207" y1="559.5" x2="222.5" y2="559.5" stroke="#231f20" stroke-width="1.03"/>
<polygon points="168.2,559.8 165.2,564.65 159.2,564.65 156.2,559.8 159.2,554.95 165.2,554.95" fill="#fff" stroke="#231f20" stroke-width="1.15"/>
<circle cx="162.2" cy="559.8" r="3" fill="none" stroke="#231f20" stroke-width="1.15"/>
<path d="M124,578 L199.5,578.8" fill="none" stroke="#231f20" stroke-width="1.15"/>
<path d="M123.5,586 L200.5,586.8" fill="none" stroke="#231f20" stroke-width="1.84"/>
<path d="M124,578 L124,586" fill="none" stroke="#231f20" stroke-width="1.15"/>
<path d="M199.5,578.8 L199.8,586.8" fill="none" stroke="#231f20" stroke-width="1.15"/>
<path d="M123,586 L123.8,590 L125,595 L138.8,595.1 L141,592.2 L184.5,592.4 L186.5,595.2 L198.5,595.2 L200,591 L200.5,586.8" fill="none" stroke="#231f20" stroke-width="1.15"/>
<line x1="70.1" y1="540.3" x2="70.1" y2="614.4" stroke="#231f20" stroke-width="1.03"/>
<polygon points="70.1,558.7 67.55,546.7 72.65,546.7" fill="#231f20"/>
<polygon points="70.1,595.7 72.65,607.7 67.55,607.7" fill="#231f20"/>
<text x="68" y="576.5" font-family="Liberation Serif" font-size="14.5" font-weight="normal" fill="#231f20" text-anchor="middle" textLength="21" lengthAdjust="spacingAndGlyphs" transform="rotate(-90 68 576.5)">140</text>
<line x1="131.4" y1="586" x2="131.2" y2="641" stroke="#231f20" stroke-width="1.03" stroke-dasharray="14 3 2 3"/>
<line x1="192.8" y1="587" x2="192.4" y2="641" stroke="#231f20" stroke-width="1.03" stroke-dasharray="14 3 2 3"/>
<line x1="122.3" y1="586" x2="122.1" y2="660" stroke="#231f20" stroke-width="1.03"/>
<line x1="200.6" y1="591" x2="200.6" y2="661" stroke="#231f20" stroke-width="1.03"/>
<line x1="105.7" y1="591.7" x2="105.7" y2="681" stroke="#231f20" stroke-width="1.03"/>
<line x1="217.3" y1="591.7" x2="217.1" y2="681" stroke="#231f20" stroke-width="1.03"/>
<line x1="131.3" y1="634.3" x2="192.4" y2="634.3" stroke="#231f20" stroke-width="1.03"/>
<polygon points="131.8,634.3 143.8,631.75 143.8,636.85" fill="#231f20"/>
<polygon points="191.9,634.3 179.9,636.85 179.9,631.75" fill="#231f20"/>
<text x="161.8" y="632.2" font-family="Liberation Serif" font-size="14.5" font-weight="normal" fill="#231f20" text-anchor="middle" textLength="22" lengthAdjust="spacingAndGlyphs">190</text>
<line x1="122.1" y1="653.6" x2="200.6" y2="653.6" stroke="#231f20" stroke-width="1.03"/>
<polygon points="122.6,653.6 134.6,651.05 134.6,656.15" fill="#231f20"/>
<polygon points="200.1,653.6 188.1,656.15 188.1,651.05" fill="#231f20"/>
<text x="161.5" y="651" font-family="Liberation Serif" font-size="14.5" font-weight="normal" fill="#231f20" text-anchor="middle" textLength="22" lengthAdjust="spacingAndGlyphs">245</text>
<line x1="105.7" y1="673.8" x2="217.1" y2="673.8" stroke="#231f20" stroke-width="1.03"/>
<polygon points="106.2,673.8 118.2,671.25 118.2,676.35" fill="#231f20"/>
<polygon points="216.6,673.8 204.6,676.35 204.6,671.25" fill="#231f20"/>
<text x="161.2" y="671.8" font-family="Liberation Serif" font-size="14.5" font-weight="normal" fill="#231f20" text-anchor="middle" textLength="22" lengthAdjust="spacingAndGlyphs">365</text>
<text x="374.3" y="433.8" font-family="Liberation Serif" font-size="14.5" font-weight="normal" fill="#231f20" text-anchor="middle" textLength="99" lengthAdjust="spacingAndGlyphs">PN25-40/DN80</text>
<path d="M333,445.3 L369.8,445.3 L374.7,439.5 L377.2,449.4 L378,445.3 L418,445.3" fill="none" stroke="#231f20" stroke-width="1.15"/>
<line x1="338.4" y1="445.3" x2="338.4" y2="528" stroke="#231f20" stroke-width="1.15"/>
<line x1="341.2" y1="445.3" x2="341.2" y2="528" stroke="#231f20" stroke-width="1.15"/>
<line x1="346.9" y1="445.3" x2="346.9" y2="528" stroke="#231f20" stroke-width="1.15"/>
<line x1="400.1" y1="445.3" x2="400.1" y2="528" stroke="#231f20" stroke-width="1.15"/>
<line x1="406.7" y1="445.3" x2="406.7" y2="528" stroke="#231f20" stroke-width="1.15"/>
<line x1="409.1" y1="445.3" x2="409.1" y2="528" stroke="#231f20" stroke-width="1.15"/>
<line x1="373.4" y1="446" x2="373.4" y2="586" stroke="#231f20" stroke-width="1.03" stroke-dasharray="31 3 3 3"/>
<path d="M340.7,527.4 L337,527.4 Q335.5,528 335.5,530 L335.4,569.5" fill="none" stroke="#231f20" stroke-width="1.15"/>
<path d="M406.7,527.4 L410,527.4 Q411.6,528 411.6,530 L411.6,569.5" fill="none" stroke="#231f20" stroke-width="1.15"/>
<line x1="340.7" y1="527" x2="340.7" y2="569.5" stroke="#231f20" stroke-width="1.03"/>
<line x1="406.7" y1="527" x2="406.7" y2="569.5" stroke="#231f20" stroke-width="1.03"/>
<path d="M335.5,569.5 Q333,572 333,577.7" fill="none" stroke="#231f20" stroke-width="1.15"/>
<path d="M411.6,569.5 Q414,572 414,577.7" fill="none" stroke="#231f20" stroke-width="1.15"/>
<circle cx="373.4" cy="550.4" r="32.7" fill="#fff" stroke="#231f20" stroke-width="1.26"/>
<circle cx="373.4" cy="550.4" r="25.2" fill="none" stroke="#231f20" stroke-width="1.03"/>
<circle cx="373.4" cy="550.4" r="19.6" fill="none" stroke="#231f20" stroke-width="2.53"/>
<circle cx="373.4" cy="550.4" r="13.1" fill="none" stroke="#231f20" stroke-width="1.15"/>
<line x1="340.4" y1="550.4" x2="360.4" y2="550.4" stroke="#231f20" stroke-width="1.03"/>
<line x1="379.9" y1="550.4" x2="384.9" y2="550.4" stroke="#231f20" stroke-width="1.03"/>
<line x1="386.4" y1="550.4" x2="406.4" y2="550.4" stroke="#231f20" stroke-width="1.03"/>
<line x1="373.4" y1="517.4" x2="373.4" y2="587.4" stroke="#231f20" stroke-width="1.03"/>
<circle cx="396.68" cy="560.04" r="2.9" fill="none" stroke="#231f20" stroke-width="1.03"/>
<line x1="393.18" y1="560.04" x2="400.18" y2="560.04" stroke="#231f20" stroke-width="0.69"/>
<line x1="396.68" y1="556.54" x2="396.68" y2="563.54" stroke="#231f20" stroke-width="0.69"/>
<circle cx="383.04" cy="573.68" r="2.9" fill="none" stroke="#231f20" stroke-width="1.03"/>
<line x1="379.54" y1="573.68" x2="386.54" y2="573.68" stroke="#231f20" stroke-width="0.69"/>
<line x1="383.04" y1="570.18" x2="383.04" y2="577.18" stroke="#231f20" stroke-width="0.69"/>
<circle cx="363.76" cy="573.68" r="2.9" fill="none" stroke="#231f20" stroke-width="1.03"/>
<line x1="360.26" y1="573.68" x2="367.26" y2="573.68" stroke="#231f20" stroke-width="0.69"/>
<line x1="363.76" y1="570.18" x2="363.76" y2="577.18" stroke="#231f20" stroke-width="0.69"/>
<circle cx="350.12" cy="560.04" r="2.9" fill="none" stroke="#231f20" stroke-width="1.03"/>
<line x1="346.62" y1="560.04" x2="353.62" y2="560.04" stroke="#231f20" stroke-width="0.69"/>
<line x1="350.12" y1="556.54" x2="350.12" y2="563.54" stroke="#231f20" stroke-width="0.69"/>
<circle cx="350.12" cy="540.76" r="2.9" fill="none" stroke="#231f20" stroke-width="1.03"/>
<line x1="346.62" y1="540.76" x2="353.62" y2="540.76" stroke="#231f20" stroke-width="0.69"/>
<line x1="350.12" y1="537.26" x2="350.12" y2="544.26" stroke="#231f20" stroke-width="0.69"/>
<circle cx="363.76" cy="527.12" r="2.9" fill="none" stroke="#231f20" stroke-width="1.03"/>
<line x1="360.26" y1="527.12" x2="367.26" y2="527.12" stroke="#231f20" stroke-width="0.69"/>
<line x1="363.76" y1="523.62" x2="363.76" y2="530.62" stroke="#231f20" stroke-width="0.69"/>
<circle cx="383.04" cy="527.12" r="2.9" fill="none" stroke="#231f20" stroke-width="1.03"/>
<line x1="379.54" y1="527.12" x2="386.54" y2="527.12" stroke="#231f20" stroke-width="0.69"/>
<line x1="383.04" y1="523.62" x2="383.04" y2="530.62" stroke="#231f20" stroke-width="0.69"/>
<circle cx="396.68" cy="540.76" r="2.9" fill="none" stroke="#231f20" stroke-width="1.03"/>
<line x1="393.18" y1="540.76" x2="400.18" y2="540.76" stroke="#231f20" stroke-width="0.69"/>
<line x1="396.68" y1="537.26" x2="396.68" y2="544.26" stroke="#231f20" stroke-width="0.69"/>
<rect x="331.4" y="550.5" width="4.5" height="11" rx="1.5" fill="none" stroke="#231f20" stroke-width="1.03"/>
<line x1="331.4" y1="556" x2="335.9" y2="556" stroke="#231f20" stroke-width="0.8"/>
<rect x="411.6" y="550.5" width="4.5" height="11" rx="1.5" fill="none" stroke="#231f20" stroke-width="1.03"/>
<line x1="411.6" y1="556" x2="416.1" y2="556" stroke="#231f20" stroke-width="0.8"/>
<path d="M321.6,577.7 L426.3,577.7" fill="none" stroke="#231f20" stroke-width="1.26"/>
<path d="M321.6,577.7 L321.6,586.3 L336.2,586.3 L337.8,582.6 L409.2,582.6 L410.8,586.3 L426.3,586.3 L426.3,577.7" fill="none" stroke="#231f20" stroke-width="1.15"/>
<line x1="322.3" y1="581.5" x2="324.2" y2="586" stroke="#231f20" stroke-width="0.8"/>
<line x1="425.6" y1="581.5" x2="423.7" y2="586" stroke="#231f20" stroke-width="0.8"/>
<text x="284.7" y="524.7" font-family="Liberation Serif" font-size="14.5" font-weight="normal" fill="#231f20" text-anchor="start">G</text>
<text x="295.3" y="517.9" font-family="Liberation Serif" font-size="11" font-weight="normal" fill="#231f20" text-anchor="start">1</text>
<line x1="301.2" y1="513.9" x2="298.5" y2="521.1" stroke="#231f20" stroke-width="0.69"/>
<text x="300.6" y="525" font-family="Liberation Serif" font-size="11" font-weight="normal" fill="#231f20" text-anchor="start">2</text>
<polyline points="283,529.6 313,529.6 330,549" fill="none" stroke="#231f20" stroke-width="1.03"/>
<polygon points="331,550.5 322.42,543.33 325.49,540.77" fill="#231f20"/>
<line x1="299.5" y1="536.8" x2="299.5" y2="604.7" stroke="#231f20" stroke-width="1.03"/>
<polygon points="299.5,577.2 296.95,565.2 302.05,565.2" fill="#231f20"/>
<polygon points="299.5,586.4 302.05,598.4 296.95,598.4" fill="#231f20"/>
<text x="296" y="552.8" font-family="Liberation Serif" font-size="14.5" font-weight="normal" fill="#231f20" text-anchor="middle" transform="rotate(-90 296 552.8)">45</text>
<line x1="297" y1="577.7" x2="321.6" y2="577.7" stroke="#231f20" stroke-width="1.03"/>
<line x1="297" y1="585.9" x2="427.5" y2="585.9" stroke="#231f20" stroke-width="1.03"/>
<text x="442" y="467.6" font-family="Liberation Serif" font-size="14.5" font-weight="normal" fill="#231f20" text-anchor="middle">8</text>
<line x1="448.4" y1="459.3" x2="457" y2="467.5" stroke="#231f20" stroke-width="0.8"/>
<line x1="457" y1="459.3" x2="448.4" y2="467.5" stroke="#231f20" stroke-width="0.8"/>
<text x="463.9" y="467.6" font-family="Liberation Serif" font-size="14.5" font-weight="normal" fill="#231f20" text-anchor="middle">ϕ</text>
<text x="467.6" y="467.6" font-family="Liberation Serif" font-size="14.5" font-weight="normal" fill="#231f20" text-anchor="start" textLength="13" lengthAdjust="spacingAndGlyphs">18</text>
<polyline points="485.5,472.2 430.1,472.2 389,520" fill="none" stroke="#231f20" stroke-width="1.03"/>
<polygon points="387.6,521.6 392.56,511.58 395.77,513.97" fill="#231f20"/>
<line x1="373.4" y1="518.5" x2="501" y2="518.5" stroke="#231f20" stroke-width="1.03"/>
<line x1="373.4" y1="525.3" x2="474" y2="525.3" stroke="#231f20" stroke-width="1.03"/>
<line x1="373.4" y1="530.8" x2="449.7" y2="530.8" stroke="#231f20" stroke-width="1.03"/>
<line x1="373.4" y1="570.3" x2="450.4" y2="570.3" stroke="#231f20" stroke-width="1.03"/>
<line x1="373.4" y1="575.4" x2="474" y2="575.4" stroke="#231f20" stroke-width="1.03"/>
<line x1="373.4" y1="582.8" x2="501" y2="582.8" stroke="#231f20" stroke-width="1.03"/>
<line x1="441.6" y1="530.8" x2="441.6" y2="570.3" stroke="#231f20" stroke-width="1.03"/>
<polygon points="441.6,531.3 444.15,543.3 439.05,543.3" fill="#231f20"/>
<polygon points="441.6,569.8 439.05,557.8 444.15,557.8" fill="#231f20"/>
<line x1="468.6" y1="525.3" x2="468.6" y2="575.4" stroke="#231f20" stroke-width="1.03"/>
<polygon points="468.6,525.8 471.15,537.8 466.05,537.8" fill="#231f20"/>
<polygon points="468.6,574.9 466.05,562.9 471.15,562.9" fill="#231f20"/>
<line x1="494.3" y1="518.5" x2="494.3" y2="582.8" stroke="#231f20" stroke-width="1.03"/>
<polygon points="494.3,519 496.85,531 491.75,531" fill="#231f20"/>
<polygon points="494.3,582.3 491.75,570.3 496.85,570.3" fill="#231f20"/>
<text x="435" y="548.4" font-family="Liberation Serif" font-size="14.5" font-weight="normal" fill="#231f20" text-anchor="middle" transform="rotate(-90 435 548.4)">ϕ120</text>
<text x="462.5" y="550" font-family="Liberation Serif" font-size="14.5" font-weight="normal" fill="#231f20" text-anchor="middle" transform="rotate(-90 462.5 550)">ϕ160</text>
<text x="491.5" y="550" font-family="Liberation Serif" font-size="14.5" font-weight="normal" fill="#231f20" text-anchor="middle" transform="rotate(-90 491.5 550)">ϕ200</text>
<text x="444" y="608.5" font-family="Liberation Serif" font-size="14.5" font-weight="normal" fill="#231f20" text-anchor="middle">4</text>
<line x1="450.3" y1="600.3" x2="458.9" y2="608.4" stroke="#231f20" stroke-width="0.8"/>
<line x1="458.9" y1="600.3" x2="450.3" y2="608.4" stroke="#231f20" stroke-width="0.8"/>
<text x="465.5" y="608.5" font-family="Liberation Serif" font-size="14.5" font-weight="normal" fill="#231f20" text-anchor="middle">ϕ</text>
<text x="470.3" y="608.5" font-family="Liberation Serif" font-size="14.5" font-weight="normal" fill="#231f20" text-anchor="start" textLength="12.6" lengthAdjust="spacingAndGlyphs">14</text>
<polyline points="486.9,612.6 437.6,612.6 419.5,592.5" fill="none" stroke="#231f20" stroke-width="1.03"/>
<polygon points="418,591 426.72,598 423.69,600.62" fill="#231f20"/>
<line x1="360.4" y1="550.5" x2="360.5" y2="626.6" stroke="#231f20" stroke-width="1.03"/>
<line x1="386.4" y1="550.5" x2="386.4" y2="626.6" stroke="#231f20" stroke-width="1.03"/>
<line x1="342.2" y1="623" x2="406.7" y2="623" stroke="#231f20" stroke-width="1.03"/>
<polygon points="360,623 348,625.55 348,620.45" fill="#231f20"/>
<polygon points="386.9,623 398.9,620.45 398.9,625.55" fill="#231f20"/>
<text x="372.8" y="619.3" font-family="Liberation Serif" font-size="14.5" font-weight="normal" fill="#231f20" text-anchor="middle">ϕ80</text>
<line x1="331.1" y1="577.7" x2="331.1" y2="652.8" stroke="#231f20" stroke-width="1.03" stroke-dasharray="14 3 2 3"/>
<line x1="416.6" y1="577.7" x2="416.6" y2="652.8" stroke="#231f20" stroke-width="1.03" stroke-dasharray="14 3 2 3"/>
<line x1="331.1" y1="650" x2="416.6" y2="650" stroke="#231f20" stroke-width="1.03"/>
<polygon points="331.6,650 343.6,647.45 343.6,652.55" fill="#231f20"/>
<polygon points="416.1,650 404.1,652.55 404.1,647.45" fill="#231f20"/>
<text x="371.5" y="646.3" font-family="Liberation Serif" font-size="14.5" font-weight="normal" fill="#231f20" text-anchor="middle">266</text>
<line x1="321.3" y1="586" x2="321.3" y2="688.8" stroke="#231f20" stroke-width="1.03"/>
<line x1="426.5" y1="586" x2="426.5" y2="688.8" stroke="#231f20" stroke-width="1.03"/>
<line x1="321.3" y1="675.7" x2="426.5" y2="675.7" stroke="#231f20" stroke-width="1.03"/>
<polygon points="321.8,675.7 333.8,673.15 333.8,678.25" fill="#231f20"/>
<polygon points="426,675.7 414,678.25 414,673.15" fill="#231f20"/>
<text x="371.7" y="671.3" font-family="Liberation Serif" font-size="14.5" font-weight="normal" fill="#231f20" text-anchor="middle">330</text>
</svg></body></html>
